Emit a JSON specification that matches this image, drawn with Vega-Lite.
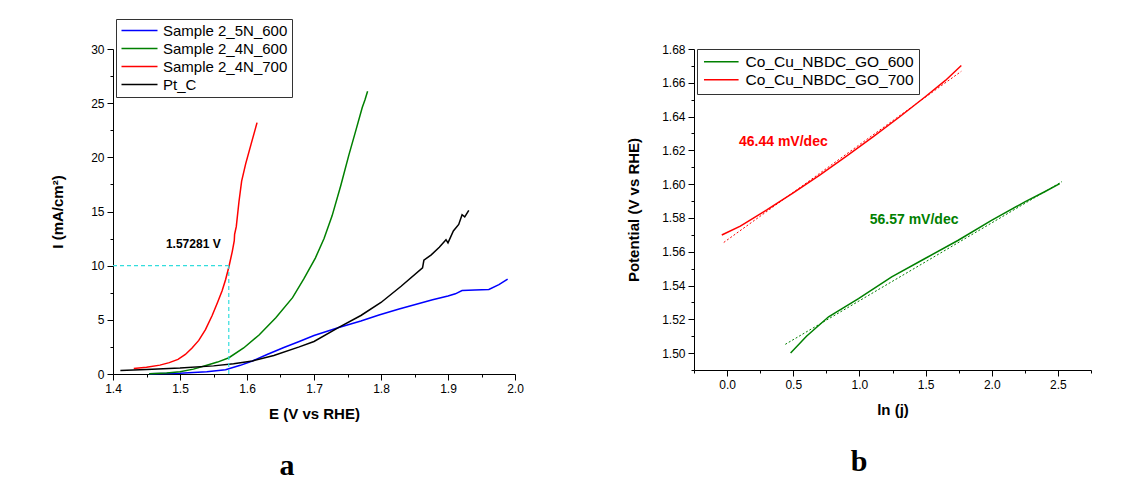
{
  "$schema": "https://vega.github.io/schema/vega-lite/v6.json",
  "background": "white",
  "padding": {"left": 50, "top": 18, "right": 5, "bottom": 5},
  "config": {
    "font": "Liberation Sans",
    "view": {"stroke": null},
    "axis": {
      "grid": false, "domainColor": "#000", "tickColor": "#000", "labelColor": "#000", "titleColor": "#000",
      "labelFont": "Liberation Sans", "labelFontSize": 12, "titleFont": "Liberation Sans", "titleFontSize": 15,
      "titleFontWeight": "bold", "labelOverlap": false, "labelFlush": false, "labelPadding": 3, "domainWidth": 1, "tickSize": 6
    },
    "legend": {"labelFont": "Liberation Sans", "labelFontSize": 15, "labelColor": "#000", "labelLimit": 400}
  },
  "datasets": {
    "lsv": [
      {"E": 1.454, "I": 0.02, "s": "Sample 2_5N_600"},
      {"E": 1.5, "I": 0.08, "s": "Sample 2_5N_600"},
      {"E": 1.54, "I": 0.2, "s": "Sample 2_5N_600"},
      {"E": 1.568, "I": 0.4, "s": "Sample 2_5N_600"},
      {"E": 1.59, "I": 0.8, "s": "Sample 2_5N_600"},
      {"E": 1.608, "I": 1.2, "s": "Sample 2_5N_600"},
      {"E": 1.63, "I": 1.8, "s": "Sample 2_5N_600"},
      {"E": 1.655, "I": 2.45, "s": "Sample 2_5N_600"},
      {"E": 1.678, "I": 3.0, "s": "Sample 2_5N_600"},
      {"E": 1.7, "I": 3.55, "s": "Sample 2_5N_600"},
      {"E": 1.737, "I": 4.3, "s": "Sample 2_5N_600"},
      {"E": 1.77, "I": 4.9, "s": "Sample 2_5N_600"},
      {"E": 1.797, "I": 5.45, "s": "Sample 2_5N_600"},
      {"E": 1.827, "I": 6.0, "s": "Sample 2_5N_600"},
      {"E": 1.85, "I": 6.4, "s": "Sample 2_5N_600"},
      {"E": 1.877, "I": 6.85, "s": "Sample 2_5N_600"},
      {"E": 1.9, "I": 7.2, "s": "Sample 2_5N_600"},
      {"E": 1.911, "I": 7.4, "s": "Sample 2_5N_600"},
      {"E": 1.921, "I": 7.7, "s": "Sample 2_5N_600"},
      {"E": 1.94, "I": 7.75, "s": "Sample 2_5N_600"},
      {"E": 1.961, "I": 7.8, "s": "Sample 2_5N_600"},
      {"E": 1.976, "I": 8.25, "s": "Sample 2_5N_600"},
      {"E": 1.989, "I": 8.75, "s": "Sample 2_5N_600"},
      {"E": 1.454, "I": 0.03, "s": "Sample 2_4N_600"},
      {"E": 1.48, "I": 0.1, "s": "Sample 2_4N_600"},
      {"E": 1.5, "I": 0.2, "s": "Sample 2_4N_600"},
      {"E": 1.52, "I": 0.45, "s": "Sample 2_4N_600"},
      {"E": 1.54, "I": 0.8, "s": "Sample 2_4N_600"},
      {"E": 1.556, "I": 1.1, "s": "Sample 2_4N_600"},
      {"E": 1.573, "I": 1.5, "s": "Sample 2_4N_600"},
      {"E": 1.595, "I": 2.4, "s": "Sample 2_4N_600"},
      {"E": 1.618, "I": 3.6, "s": "Sample 2_4N_600"},
      {"E": 1.643, "I": 5.2, "s": "Sample 2_4N_600"},
      {"E": 1.668, "I": 7.05, "s": "Sample 2_4N_600"},
      {"E": 1.685, "I": 8.8, "s": "Sample 2_4N_600"},
      {"E": 1.702, "I": 10.7, "s": "Sample 2_4N_600"},
      {"E": 1.715, "I": 12.5, "s": "Sample 2_4N_600"},
      {"E": 1.727, "I": 14.6, "s": "Sample 2_4N_600"},
      {"E": 1.74, "I": 17.4, "s": "Sample 2_4N_600"},
      {"E": 1.752, "I": 20.2, "s": "Sample 2_4N_600"},
      {"E": 1.763, "I": 22.6, "s": "Sample 2_4N_600"},
      {"E": 1.772, "I": 24.6, "s": "Sample 2_4N_600"},
      {"E": 1.776, "I": 25.3, "s": "Sample 2_4N_600"},
      {"E": 1.78, "I": 26.1, "s": "Sample 2_4N_600"},
      {"E": 1.431, "I": 0.5, "s": "Sample 2_4N_700"},
      {"E": 1.45, "I": 0.62, "s": "Sample 2_4N_700"},
      {"E": 1.47, "I": 0.82, "s": "Sample 2_4N_700"},
      {"E": 1.484, "I": 1.05, "s": "Sample 2_4N_700"},
      {"E": 1.497, "I": 1.35, "s": "Sample 2_4N_700"},
      {"E": 1.508, "I": 1.8, "s": "Sample 2_4N_700"},
      {"E": 1.518, "I": 2.4, "s": "Sample 2_4N_700"},
      {"E": 1.528, "I": 3.1, "s": "Sample 2_4N_700"},
      {"E": 1.538, "I": 4.1, "s": "Sample 2_4N_700"},
      {"E": 1.548, "I": 5.4, "s": "Sample 2_4N_700"},
      {"E": 1.556, "I": 6.6, "s": "Sample 2_4N_700"},
      {"E": 1.563, "I": 7.7, "s": "Sample 2_4N_700"},
      {"E": 1.568, "I": 8.7, "s": "Sample 2_4N_700"},
      {"E": 1.573, "I": 9.9, "s": "Sample 2_4N_700"},
      {"E": 1.578, "I": 11.3, "s": "Sample 2_4N_700"},
      {"E": 1.581, "I": 12.3, "s": "Sample 2_4N_700"},
      {"E": 1.5815, "I": 12.9, "s": "Sample 2_4N_700"},
      {"E": 1.584, "I": 13.6, "s": "Sample 2_4N_700"},
      {"E": 1.588, "I": 15.9, "s": "Sample 2_4N_700"},
      {"E": 1.592, "I": 17.8, "s": "Sample 2_4N_700"},
      {"E": 1.598, "I": 19.4, "s": "Sample 2_4N_700"},
      {"E": 1.606, "I": 21.2, "s": "Sample 2_4N_700"},
      {"E": 1.615, "I": 23.2, "s": "Sample 2_4N_700"},
      {"E": 1.411, "I": 0.33, "s": "Pt_C"},
      {"E": 1.45, "I": 0.42, "s": "Pt_C"},
      {"E": 1.5, "I": 0.55, "s": "Pt_C"},
      {"E": 1.55, "I": 0.75, "s": "Pt_C"},
      {"E": 1.58, "I": 0.95, "s": "Pt_C"},
      {"E": 1.608, "I": 1.2, "s": "Pt_C"},
      {"E": 1.64, "I": 1.7, "s": "Pt_C"},
      {"E": 1.678, "I": 2.5, "s": "Pt_C"},
      {"E": 1.7, "I": 3.0, "s": "Pt_C"},
      {"E": 1.737, "I": 4.3, "s": "Pt_C"},
      {"E": 1.77, "I": 5.4, "s": "Pt_C"},
      {"E": 1.8, "I": 6.6, "s": "Pt_C"},
      {"E": 1.83, "I": 8.1, "s": "Pt_C"},
      {"E": 1.862, "I": 9.8, "s": "Pt_C"},
      {"E": 1.864, "I": 10.5, "s": "Pt_C"},
      {"E": 1.875, "I": 11.0, "s": "Pt_C"},
      {"E": 1.887, "I": 11.7, "s": "Pt_C"},
      {"E": 1.897, "I": 12.4, "s": "Pt_C"},
      {"E": 1.9, "I": 12.1, "s": "Pt_C"},
      {"E": 1.908, "I": 13.2, "s": "Pt_C"},
      {"E": 1.916, "I": 13.8, "s": "Pt_C"},
      {"E": 1.921, "I": 14.7, "s": "Pt_C"},
      {"E": 1.925, "I": 14.5, "s": "Pt_C"},
      {"E": 1.931, "I": 15.1, "s": "Pt_C"}
    ],
    "tafel": [
      {"lnj": -0.04, "V": 1.5699, "s": "Co_Cu_NBDC_GO_700"},
      {"lnj": 0.1, "V": 1.5752, "s": "Co_Cu_NBDC_GO_700"},
      {"lnj": 0.3, "V": 1.5848, "s": "Co_Cu_NBDC_GO_700"},
      {"lnj": 0.5, "V": 1.5949, "s": "Co_Cu_NBDC_GO_700"},
      {"lnj": 0.7, "V": 1.6054, "s": "Co_Cu_NBDC_GO_700"},
      {"lnj": 0.9, "V": 1.6164, "s": "Co_Cu_NBDC_GO_700"},
      {"lnj": 1.1, "V": 1.6278, "s": "Co_Cu_NBDC_GO_700"},
      {"lnj": 1.3, "V": 1.6396, "s": "Co_Cu_NBDC_GO_700"},
      {"lnj": 1.5, "V": 1.6519, "s": "Co_Cu_NBDC_GO_700"},
      {"lnj": 1.65, "V": 1.6614, "s": "Co_Cu_NBDC_GO_700"},
      {"lnj": 1.77, "V": 1.6702, "s": "Co_Cu_NBDC_GO_700"},
      {"lnj": 0.48, "V": 1.5, "s": "Co_Cu_NBDC_GO_600"},
      {"lnj": 0.6, "V": 1.51, "s": "Co_Cu_NBDC_GO_600"},
      {"lnj": 0.767, "V": 1.5215, "s": "Co_Cu_NBDC_GO_600"},
      {"lnj": 0.993, "V": 1.5323, "s": "Co_Cu_NBDC_GO_600"},
      {"lnj": 1.244, "V": 1.5451, "s": "Co_Cu_NBDC_GO_600"},
      {"lnj": 1.496, "V": 1.556, "s": "Co_Cu_NBDC_GO_600"},
      {"lnj": 1.747, "V": 1.5668, "s": "Co_Cu_NBDC_GO_600"},
      {"lnj": 1.998, "V": 1.5786, "s": "Co_Cu_NBDC_GO_600"},
      {"lnj": 2.25, "V": 1.5895, "s": "Co_Cu_NBDC_GO_600"},
      {"lnj": 2.4, "V": 1.5955, "s": "Co_Cu_NBDC_GO_600"},
      {"lnj": 2.514, "V": 1.6003, "s": "Co_Cu_NBDC_GO_600"}
    ],
    "tafelfit": [
      {"lnj": -0.025, "V": 1.5655, "s": "Co_Cu_NBDC_GO_700"},
      {"lnj": 1.77, "V": 1.6668, "s": "Co_Cu_NBDC_GO_700"},
      {"lnj": 0.44, "V": 1.5052, "s": "Co_Cu_NBDC_GO_600"},
      {"lnj": 2.53, "V": 1.6015, "s": "Co_Cu_NBDC_GO_600"}
    ]
  },
  "spacing": 102,
  "hconcat": [
    {
      "width": 402,
      "height": 325,
      "title": {"text": "a", "orient": "bottom", "font": "Liberation Serif", "fontSize": 30, "fontWeight": "bold", "color": "#000", "frame": "bounds", "anchor": "middle", "offset": 30},
      "layer": [
        {
          "data": {"name": "lsv"},
          "mark": {"type": "line", "strokeWidth": 1.5},
          "encoding": {
            "x": {"field": "E", "type": "quantitative",
              "scale": {"domain": [1.4, 2.0], "nice": false, "zero": false},
              "axis": {"title": "E (V vs RHE)", "titlePadding": 12, "format": ".1f", "orient": "bottom",
                "values": [1.4, 1.5, 1.6, 1.7, 1.8, 1.9, 2.0]}},
            "y": {"field": "I", "type": "quantitative",
              "scale": {"domain": [0, 30], "nice": false},
              "axis": {"title": "I (mA/cm²)", "titlePadding": 25, "format": "d", "orient": "left",
                "values": [0, 5, 10, 15, 20, 25, 30]}},
            "color": {"field": "s", "type": "nominal",
              "scale": {"domain": ["Sample 2_5N_600", "Sample 2_4N_600", "Sample 2_4N_700", "Pt_C"], "range": ["#0000ff", "#008000", "#ff0000", "#000000"]},
              "legend": {"title": null, "orient": "none", "legendX": 3, "legendY": -30, "symbolType": "M-1,0H5", "symbolSize": 144, "symbolStrokeWidth": 1.5, "strokeColor": "#333", "padding": 4, "labelOffset": 28, "rowPadding": 2}}
          }
        },
        {
          "data": {"values": [{}]},
          "mark": {"type": "point", "opacity": 0},
          "encoding": {
            "x": {"datum": 1.4, "type": "quantitative",
              "axis": {"orient": "bottom", "values": [1.45, 1.55, 1.65, 1.75, 1.85, 1.95], "labels": false, "domain": false, "title": null, "tickSize": 3}},
            "y": {"datum": 0, "type": "quantitative",
              "axis": {"orient": "left", "values": [2.5, 7.5, 12.5, 17.5, 22.5, 27.5], "labels": false, "domain": false, "title": null, "tickSize": 3}}
          }
        },
        {
          "data": {"values": [{}]},
          "mark": {"type": "rule", "color": "#33dddd", "strokeDash": [4, 3], "strokeWidth": 1.2},
          "encoding": {"x": {"datum": 1.4, "type": "quantitative", "axis": null}, "x2": {"datum": 1.5728}, "y": {"datum": 10, "type": "quantitative", "axis": null}}
        },
        {
          "data": {"values": [{}]},
          "mark": {"type": "rule", "color": "#33dddd", "strokeDash": [4, 3], "strokeWidth": 1.2},
          "encoding": {"x": {"datum": 1.5728, "type": "quantitative", "axis": null}, "y": {"datum": 0, "type": "quantitative", "axis": null}, "y2": {"datum": 10}}
        },
        {
          "data": {"values": [{}]},
          "mark": {"type": "text", "text": "1.57281 V", "font": "Liberation Sans", "fontSize": 12, "fontWeight": "bold", "align": "left", "baseline": "middle", "color": "#000"},
          "encoding": {"x": {"datum": 1.479, "type": "quantitative", "axis": null}, "y": {"datum": 12.0, "type": "quantitative", "axis": null}}
        }
      ],
      "resolve": {"axis": {"x": "independent", "y": "independent"}}
    },
    {
      "width": 397,
      "height": 321,
      "title": {"text": "b", "orient": "bottom", "font": "Liberation Serif", "fontSize": 30, "fontWeight": "bold", "color": "#000", "frame": "bounds", "anchor": "middle", "offset": 30},
      "layer": [
        {
          "encoding": {
            "x": {"field": "lnj", "type": "quantitative",
              "scale": {"domain": [-0.25, 2.75], "nice": false, "zero": false},
              "axis": {"title": "ln (j)", "titlePadding": 12, "format": ".1f", "orient": "bottom",
                "values": [0, 0.5, 1, 1.5, 2, 2.5]}},
            "y": {"field": "V", "type": "quantitative",
              "scale": {"domain": [1.49, 1.68], "nice": false, "zero": false},
              "axis": {"title": "Potential (V vs RHE)", "titlePadding": 20, "format": ".2f", "orient": "left",
                "values": [1.5, 1.52, 1.54, 1.56, 1.58, 1.6, 1.62, 1.64, 1.66, 1.68]}},
            "color": {"field": "s", "type": "nominal",
              "scale": {"domain": ["Co_Cu_NBDC_GO_600", "Co_Cu_NBDC_GO_700"], "range": ["#008000", "#ff0000"]},
              "legend": {"title": null, "orient": "none", "legendX": 3, "legendY": 0, "symbolType": "M-1,0H5", "symbolSize": 133, "symbolStrokeWidth": 1.5, "strokeColor": "#333", "padding": 5, "labelOffset": 28, "rowPadding": 1, "labelFontSize": 15.5}}
          },
          "layer": [
            {"data": {"name": "tafel"}, "mark": {"type": "line", "strokeWidth": 1.5}},
            {"data": {"name": "tafelfit"}, "mark": {"type": "line", "strokeWidth": 1, "strokeDash": [2, 2]}}
          ]
        },
        {
          "data": {"values": [{}]},
          "mark": {"type": "point", "opacity": 0},
          "encoding": {
            "x": {"datum": 0, "type": "quantitative",
              "axis": {"orient": "bottom", "values": [-0.25, 0.25, 0.75, 1.25, 1.75, 2.25, 2.75], "labels": false, "domain": false, "title": null, "tickSize": 3}},
            "y": {"datum": 1.5, "type": "quantitative",
              "axis": {"orient": "left", "values": [1.49, 1.51, 1.53, 1.55, 1.57, 1.59, 1.61, 1.63, 1.65, 1.67], "labels": false, "domain": false, "title": null, "tickSize": 3}}
          }
        },
        {
          "data": {"values": [{}]},
          "mark": {"type": "text", "text": "46.44 mV/dec", "font": "Liberation Sans", "fontSize": 14, "fontWeight": "bold", "align": "left", "baseline": "middle", "color": "#ff0000"},
          "encoding": {"x": {"datum": 0.09, "type": "quantitative", "axis": null}, "y": {"datum": 1.6249, "type": "quantitative", "axis": null}}
        },
        {
          "data": {"values": [{}]},
          "mark": {"type": "text", "text": "56.57 mV/dec", "font": "Liberation Sans", "fontSize": 14, "fontWeight": "bold", "align": "left", "baseline": "middle", "color": "#008000"},
          "encoding": {"x": {"datum": 1.078, "type": "quantitative", "axis": null}, "y": {"datum": 1.5787, "type": "quantitative", "axis": null}}
        }
      ],
      "resolve": {"axis": {"x": "independent", "y": "independent"}}
    }
  ],
  "resolve": {"scale": {"color": "independent"}, "legend": {"color": "independent"}}
}
